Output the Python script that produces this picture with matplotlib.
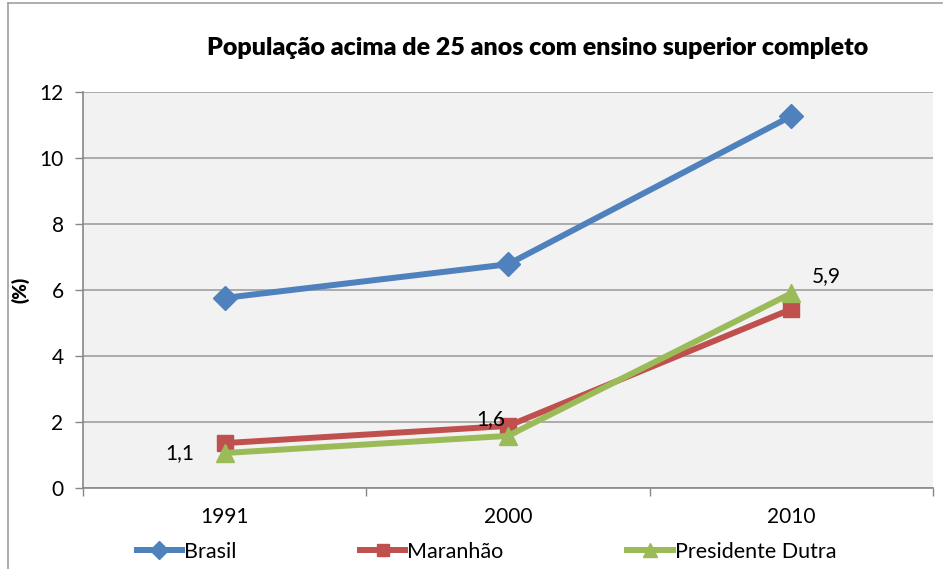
import numpy as np
import matplotlib as mpl
mpl.rcParams["font.family"] = ['Lato', 'DejaVu Sans']
import matplotlib.pyplot as plt
from matplotlib.lines import Line2D

# dados
anos = ['1991', '2000', '2010']
brasil = [5.76, 6.78, 11.27]
maranhao = [1.36, 1.88, 5.42]
pres_dutra = [1.06, 1.58, 5.9]
rotulos_pd = ['1,1', '1,6', '5,9']

azul, vermelho, verde = '#4F81BD', '#C0504D', '#9BBB59'

fig = plt.figure(figsize=(9.52, 5.69), dpi=100)
ax = fig.add_axes([83/952, 1-488/569, (933-83)/952, (488-92)/569])
ax.set_facecolor('#F2F2F2')

x = np.arange(len(anos))
ax.plot(x, brasil, color=azul, lw=4.3, marker='D', ms=12, label='Brasil', zorder=3)
ax.plot(x, maranhao, color=vermelho, lw=4.3, marker='s', ms=12, label='Maranhão', zorder=3)
ax.plot(x, pres_dutra, color=verde, lw=4.3, marker='^', ms=13, label='Presidente Dutra', zorder=4)

# rotulos de dados (Presidente Dutra)
offs = [(-22, 0, 'right', 'center'), (-2, 5, 'right', 'bottom'), (15, 5, 'left', 'bottom')]
for xi, yi, txt, (dx, dy, ha, va) in zip(x, pres_dutra, rotulos_pd, offs):
    ax.annotate(txt, (xi, yi), xytext=(dx, dy), textcoords='offset points',
                ha=ha, va=va, fontsize=15)

ax.set_xlim(-0.5, 2.5)
ax.set_ylim(0, 12)
ax.set_yticks(np.arange(0, 13, 2))
ax.grid(axis='y', color='#A6A6A6', lw=1.3)
ax.set_axisbelow(True)
ax.set_xticks(x)
ax.set_xticklabels(anos)
ax.set_xticks([-0.5, 0.5, 1.5, 2.5], minor=True)
ax.tick_params(axis='x', which='major', length=0, pad=14, labelsize=15)
ax.tick_params(axis='x', which='minor', length=6, color='#878787', width=1)
ax.tick_params(axis='y', length=6, color='#878787', width=1, labelsize=15, pad=8)
for s in ['top', 'right']:
    ax.spines[s].set_visible(False)
ax.spines['left'].set_color('#878787')
ax.spines['bottom'].set_color('#878787')
ax.spines['left'].set_linewidth(1.2)
ax.spines['bottom'].set_linewidth(1.2)

ax.set_ylabel('(%)', fontsize=13.5, fontweight='heavy', labelpad=7)
fig.text(538/952, 1-48/569, 'População acima de 25 anos com ensino superior completo',
         ha='center', va='center', fontsize=18, fontweight='heavy')

leg = fig.legend(loc='center', bbox_to_anchor=(0.511, 1-552/569), ncol=3, frameon=False,
                 fontsize=15.5, handlelength=2.1, handletextpad=0.1, columnspacing=5.75,
                 borderaxespad=0, markerscale=0.75)

# moldura externa
fig.add_artist(Line2D([8/952, 8/952], [0, 1-3/569], color='#A0A0A0', lw=1.2))
fig.add_artist(Line2D([8/952, 942/952], [1-3/569, 1-3/569], color='#A0A0A0', lw=1.2))

fig.savefig('out.png', dpi=100)
